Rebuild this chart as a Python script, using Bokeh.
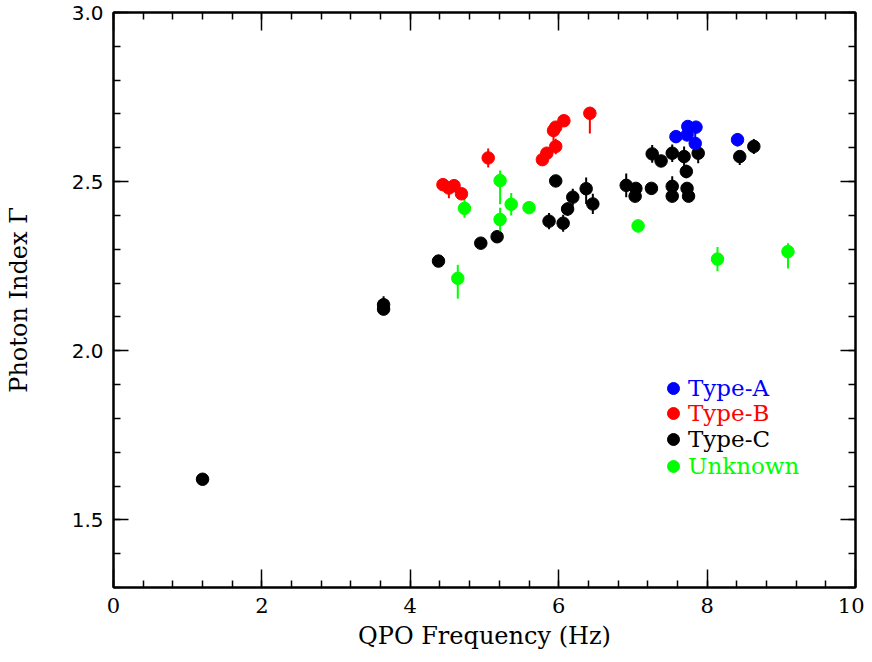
from bokeh.plotting import figure
from bokeh.models import (ColumnDataSource, LinearAxis, Legend, LegendItem, Range1d,
                          SingleIntervalTicker, PrintfTickFormatter, CustomJSTickFormatter)
from bokeh.embed import file_html
from bokeh.resources import INLINE

# ---------------- data ----------------
a_x = [7.58, 7.74, 7.85, 7.73, 7.84, 8.41]
a_y = [2.633, 2.663, 2.661, 2.638, 2.613, 2.624]
a_lo = [0.015, 0.012, 0.012, 0.012, 0.012, 0.02]
a_hi = [0.015, 0.012, 0.012, 0.012, 0.035, 0.02]

b_x = [4.44, 4.52, 4.59, 4.69, 5.05, 5.78, 5.84, 5.96, 5.93, 5.96, 6.07, 6.42]
b_y = [2.491, 2.481, 2.488, 2.464, 2.570, 2.565, 2.584, 2.604, 2.651, 2.661, 2.680, 2.702]
b_lo = [0.015, 0.03, 0.015, 0.012, 0.028, 0.012, 0.012, 0.023, 0.03, 0.012, 0.01, 0.06]
b_hi = [0.015, 0.015, 0.015, 0.012, 0.028, 0.012, 0.012, 0.023, 0.012, 0.012, 0.01, 0.01]

c_x = [1.20, 3.64, 3.64, 4.38, 4.95, 5.17, 5.87, 5.96, 6.06, 6.12, 6.19, 6.37, 6.46, 6.91,
       7.04, 7.03, 7.25, 7.26, 7.38, 7.53, 7.53, 7.53, 7.69, 7.72, 7.73, 7.75, 7.88, 8.44, 8.63]
c_y = [1.620, 2.136, 2.123, 2.265, 2.318, 2.337, 2.383, 2.502, 2.377, 2.419, 2.454, 2.479,
       2.434, 2.489, 2.480, 2.457, 2.480, 2.582, 2.561, 2.584, 2.486, 2.457, 2.574, 2.530,
       2.480, 2.457, 2.584, 2.574, 2.604]
c_lo = [0.008, 0.01, 0.015, 0.008, 0.008, 0.015, 0.024, 0.012, 0.025, 0.02, 0.025, 0.045,
        0.03, 0.035, 0.015, 0.015, 0.01, 0.026, 0.012, 0.026, 0.015, 0.012, 0.03, 0.02,
        0.015, 0.012, 0.03, 0.025, 0.022]
c_hi = [0.008, 0.025, 0.015, 0.008, 0.008, 0.015, 0.024, 0.012, 0.025, 0.02, 0.025, 0.033,
        0.03, 0.035, 0.015, 0.015, 0.01, 0.026, 0.012, 0.026, 0.03, 0.012, 0.03, 0.02,
        0.015, 0.012, 0.015, 0.012, 0.022]

u_x = [4.64, 4.73, 5.21, 5.21, 5.36, 5.60, 7.07, 8.14, 9.09]
u_y = [2.214, 2.421, 2.503, 2.388, 2.433, 2.423, 2.369, 2.271, 2.293]
u_lo = [0.06, 0.028, 0.07, 0.035, 0.033, 0.015, 0.019, 0.036, 0.05]
u_hi = [0.04, 0.028, 0.03, 0.035, 0.033, 0.015, 0.019, 0.036, 0.025]

series = [
    ("Type-C", "#000000", c_x, c_y, c_lo, c_hi),
    ("Unknown", "#00ff00", u_x, u_y, u_lo, u_hi),
    ("Type-B", "#ff0000", b_x, b_y, b_lo, b_hi),
    ("Type-A", "#0000ff", a_x, a_y, a_lo, a_hi),
]
legend_order = ["Type-A", "Type-B", "Type-C", "Unknown"]

SERIF = "DejaVu Serif"
SANS = "DejaVu Sans"

p = figure(width=864, height=654, x_range=Range1d(0, 10), y_range=Range1d(1.3, 3.0),
           output_backend="svg", toolbar_location=None,
           min_border_left=113, min_border_right=9, min_border_top=12, min_border_bottom=67)
p.xgrid.visible = False
p.ygrid.visible = False
p.outline_line_color = "black"
p.outline_line_width = 2
p.background_fill_color = "white"
p.border_fill_color = "white"

renderers = {}
for name, col, xs, ys, lo, hi in series:
    src = ColumnDataSource(dict(x=xs, y=ys,
                                lo=[y - e for y, e in zip(ys, lo)],
                                hi=[y + e for y, e in zip(ys, hi)]))
    p.segment(x0="x", y0="lo", x1="x", y1="hi", source=src, line_color=col, line_width=2)
    r = p.scatter(x="x", y="y", source=src, size=12.5, marker="circle",
                  fill_color=col, line_color=col, line_width=1)
    renderers[name] = r


def style_axis(ax, ticker, fmt, font, size, show_labels=True, major_len=16):
    ax.ticker = ticker
    ax.axis_line_color = "black"
    ax.axis_line_width = 2
    ax.major_tick_line_color = "black"
    ax.minor_tick_line_color = "black"
    ax.major_tick_line_width = 1.5
    ax.minor_tick_line_width = 1.5
    ax.major_tick_in = major_len
    ax.major_tick_out = 0
    ax.minor_tick_in = 7
    ax.minor_tick_out = 0
    ax.major_label_text_font = font
    ax.major_label_text_color = "black"
    ax.major_label_text_font_size = size
    if show_labels:
        ax.formatter = PrintfTickFormatter(format=fmt)
    else:
        ax.formatter = CustomJSTickFormatter(code="return ''")
        ax.major_label_standoff = 0


xt = SingleIntervalTicker(interval=2, num_minor_ticks=5)
yt = SingleIntervalTicker(interval=0.5, num_minor_ticks=5)

xa = p.xaxis[0]
ya = p.yaxis[0]
style_axis(xa, xt, "%d", SERIF, "21px", major_len=18)
style_axis(ya, yt, "%.1f", SANS, "20px", major_len=15)
xa.major_label_standoff = 10
ya.major_label_standoff = 10
xa.axis_label = "QPO Frequency (Hz)"
ya.axis_label = "Photon Index Γ"
for ax in (xa, ya):
    ax.axis_label_text_font = SERIF
    ax.axis_label_text_font_style = "normal"
    ax.axis_label_text_font_size = "24px"
    ax.axis_label_text_color = "black"
xa.axis_label_standoff = 6
ya.axis_label_standoff = 36

top = LinearAxis()
style_axis(top, SingleIntervalTicker(interval=2, num_minor_ticks=5), "%d", SERIF, "1px",
           show_labels=False, major_len=18)
p.add_layout(top, "above")
right = LinearAxis()
style_axis(right, SingleIntervalTicker(interval=0.5, num_minor_ticks=5), "%.1f", SANS, "1px",
           show_labels=False, major_len=15)
p.add_layout(right, "right")

colors = {name: col for name, col, *_ in series}
offsets = {"Type-A": 184, "Type-B": 159, "Type-C": 133, "Unknown": 106}
for name in legend_order:
    lg = Legend(items=[LegendItem(label=name, renderers=[renderers[name]])],
                location=(545, offsets[name]),
                glyph_width=30, glyph_height=30, label_standoff=0,
                padding=0, margin=0, spacing=0,
                background_fill_alpha=0, border_line_alpha=0,
                label_text_font=SERIF, label_text_font_size="23px",
                label_text_color=colors[name])
    p.add_layout(lg, "center")

open("out.html", "w").write(file_html(p, INLINE))
